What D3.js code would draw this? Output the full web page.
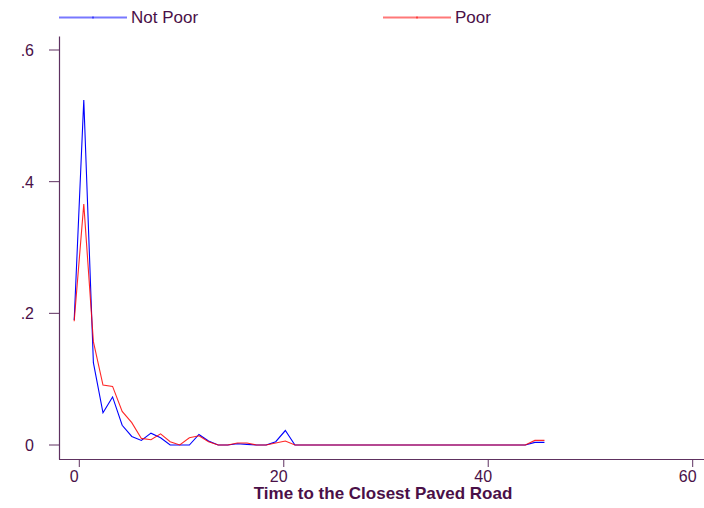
<!DOCTYPE html>
<html>
<head>
<meta charset="utf-8">
<script src="https://cdn.jsdelivr.net/npm/d3@7"></script>
<style>
    body { margin: 0; background: #fff; }
    text { font-family: "Liberation Sans", Arial, sans-serif; }
</style>
</head>
<body>
<div id="chart"></div>
<script>
    var width = 704;
    var height = 508;

    // 50 evaluation points from -0.5 to 45.5
    var xMin = -0.5;
    var xMax = 45.5;
    var nPoints = 50;

    var notPoor = [0.19, 0.524, 0.125, 0.049, 0.073, 0.030, 0.013, 0.007, 0.018, 0.011,
        0.0, 0.0, 0.0, 0.016, 0.006, 0.0, 0.0, 0.002, 0.001, 0.0,
        0.0, 0.005, 0.022, 0.0, 0.0, 0.0, 0.0, 0.0, 0.0, 0.0,
        0.0, 0.0, 0.0, 0.0, 0.0, 0.0, 0.0, 0.0, 0.0, 0.0,
        0.0, 0.0, 0.0, 0.0, 0.0, 0.0, 0.0, 0.0, 0.004, 0.004];

    var poor = [0.188, 0.366, 0.157, 0.091, 0.089, 0.051, 0.034, 0.010, 0.008, 0.017,
        0.005, 0.0, 0.011, 0.014, 0.005, 0.0, 0.0, 0.003, 0.003, 0.0,
        0.0, 0.003, 0.006, 0.0, 0.0, 0.0, 0.0, 0.0, 0.0, 0.0,
        0.0, 0.0, 0.0, 0.0, 0.0, 0.0, 0.0, 0.0, 0.0, 0.0,
        0.0, 0.0, 0.0, 0.0, 0.0, 0.0, 0.0, 0.0, 0.007, 0.007];

    var xTicks = [0, 20, 40, 60];
    var yTicks = [0, 0.2, 0.4, 0.6];
    var yTickLabels = ["0", ".2", ".4", ".6"];

    var series = [
        { name: "Not Poor", values: notPoor, color: "#0000ff", legendColor: "#7878ff", legendX: 59 },
        { name: "Poor", values: poor, color: "#ff0000", legendColor: "#ff7878", legendX: 383 }
    ];

    var textColor = "#4a1048";
    var axisColor = "#5e3160";

    var svg = d3.select("#chart")
        .append("svg").attr("width", width).attr("height", height);

    var x = d3.scaleLinear().domain([0, 60]).range([79.3, 692.7]);
    var y = d3.scaleLinear().domain([0, 0.6]).range([445, 50]);

    function xAt(i) {
        return xMin + i * (xMax - xMin) / (nPoints - 1);
    }

    // Axes
    svg.append("line")
        .attr("x1", 59.5).attr("x2", 59.5)
        .attr("y1", 36.5).attr("y2", 459.5)
        .attr("stroke", axisColor).attr("stroke-width", 1.2);

    svg.append("line")
        .attr("x1", 59).attr("x2", 704)
        .attr("y1", 459.5).attr("y2", 459.5)
        .attr("stroke", axisColor).attr("stroke-width", 1.2);

    yTicks.forEach(function (t, i) {
        svg.append("line")
            .attr("x1", 49).attr("x2", 59.5)
            .attr("y1", y(t)).attr("y2", y(t))
            .attr("stroke", axisColor).attr("stroke-width", 1);
        svg.append("text")
            .attr("x", 34)
            .attr("y", y(t) + 6)
            .attr("text-anchor", "end")
            .attr("font-size", "16px")
            .attr("fill", textColor)
            .text(yTickLabels[i]);
    });

    xTicks.forEach(function (t) {
        svg.append("line")
            .attr("x1", x(t)).attr("x2", x(t))
            .attr("y1", 459.5).attr("y2", 467)
            .attr("stroke", axisColor).attr("stroke-width", 1);
        svg.append("text")
            .attr("x", x(t) - 5)
            .attr("y", 482)
            .attr("text-anchor", "middle")
            .attr("font-size", "16px")
            .attr("fill", textColor)
            .text(t);
    });

    svg.append("text")
        .attr("x", 383)
        .attr("y", 499)
        .attr("text-anchor", "middle")
        .attr("font-size", "17px")
        .attr("font-weight", "bold")
        .attr("fill", textColor)
        .text("Time to the Closest Paved Road");

    // Lines
    var line = d3.line()
        .x(function (d, i) { return x(xAt(i)); })
        .y(function (d) { return y(d); });

    series.forEach(function (s) {
        svg.append("path")
            .datum(s.values)
            .attr("d", line)
            .attr("fill", "none")
            .attr("stroke", s.color)
            .attr("stroke-width", 1.1)
            .attr("opacity", s.name === "Poor" ? 0.85 : 1);

        // Legend
        svg.append("line")
            .attr("x1", s.legendX).attr("x2", s.legendX + 68)
            .attr("y1", 17.5).attr("y2", 17.5)
            .attr("stroke", s.legendColor).attr("stroke-width", 2);
        svg.append("line")
            .attr("x1", s.legendX + 34).attr("x2", s.legendX + 34)
            .attr("y1", 16.5).attr("y2", 18.5)
            .attr("stroke", s.color).attr("stroke-width", 1);
        svg.append("text")
            .attr("x", s.legendX + 72)
            .attr("y", 23)
            .attr("font-size", "17px")
            .attr("fill", textColor)
            .text(s.name);
    });
</script>
</body>
</html>
